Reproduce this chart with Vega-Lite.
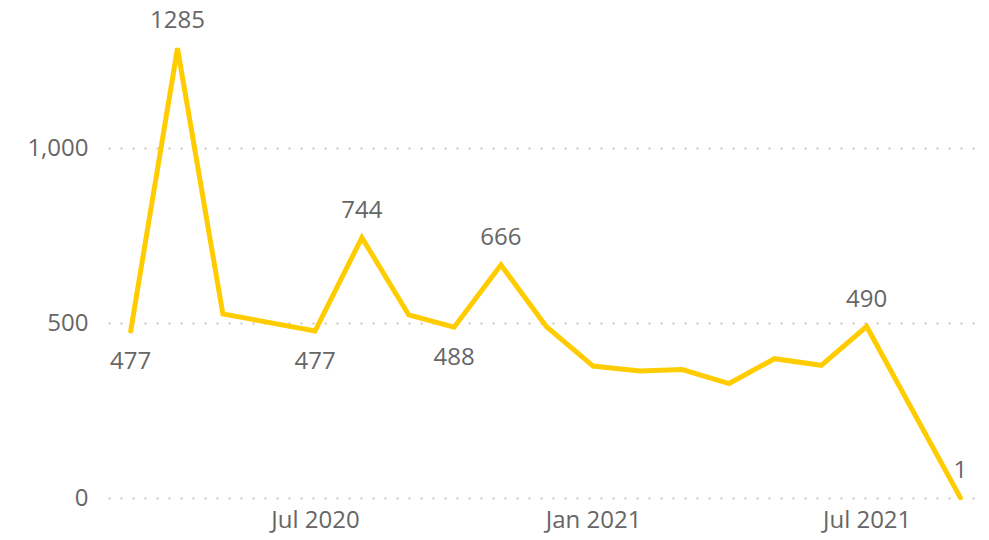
{
  "$schema": "https://vega.github.io/schema/vega-lite/v6.json",
  "width": 875,
  "height": 469,
  "autosize": {"type": "none"},
  "padding": {"left": 108, "top": 29, "right": 6, "bottom": 42},
  "background": "white",
  "config": {"view": {"stroke": null}, "font": "Open Sans"},
  "data": {
    "values": [
      {"date": "2020-03-01", "value": 477},
      {"date": "2020-04-01", "value": 1285},
      {"date": "2020-05-01", "value": 526},
      {"date": "2020-07-01", "value": 477},
      {"date": "2020-08-01", "value": 744},
      {"date": "2020-09-01", "value": 523},
      {"date": "2020-10-01", "value": 488},
      {"date": "2020-11-01", "value": 666},
      {"date": "2020-12-01", "value": 490},
      {"date": "2021-01-01", "value": 377},
      {"date": "2021-02-01", "value": 363},
      {"date": "2021-03-01", "value": 367},
      {"date": "2021-04-01", "value": 327},
      {"date": "2021-05-01", "value": 398},
      {"date": "2021-06-01", "value": 379},
      {"date": "2021-07-01", "value": 490},
      {"date": "2021-09-01", "value": 1}
    ]
  },
  "encoding": {
    "x": {
      "field": "date",
      "type": "temporal",
      "title": null,
      "scale": {
        "type": "utc",
        "domain": [
          {"year": 2020, "month": 2, "date": 15, "utc": true},
          {"year": 2021, "month": 9, "date": 16, "utc": true}
        ]
      },
      "axis": {
        "values": [
          {"year": 2020, "month": 7, "date": 1, "utc": true},
          {"year": 2021, "month": 1, "date": 1, "utc": true},
          {"year": 2021, "month": 7, "date": 1, "utc": true}
        ],
        "labelExpr": "utcFormat(datum.value, '%b %Y')",
        "grid": false,
        "domain": false,
        "ticks": false,
        "labelFontSize": 24,
        "labelColor": "#666666",
        "labelPadding": 10
      }
    },
    "y": {
      "field": "value",
      "type": "quantitative",
      "title": null,
      "scale": {"domain": [0, 1340], "nice": false},
      "axis": {
        "values": [0, 500, 1000],
        "format": ",d",
        "domain": false,
        "ticks": false,
        "grid": true,
        "gridColor": "#C8C8C8",
        "gridDash": [2, 10],
        "gridWidth": 2,
        "labelFontSize": 24,
        "labelColor": "#666666",
        "labelPadding": 20
      }
    }
  },
  "layer": [
    {
      "mark": {"type": "line", "color": "#FFCC00", "strokeWidth": 5, "strokeJoin": "miter", "strokeCap": "round"}
    },
    {
      "transform": [
        {"filter": "indexof(['2020-04','2020-08','2020-11','2021-07','2021-09'], utcFormat(toDate(datum.date), '%Y-%m')) >= 0"}
      ],
      "mark": {"type": "text", "fontSize": 24, "color": "#666666", "baseline": "middle", "align": "center", "dy": -27},
      "encoding": {"text": {"field": "value", "type": "quantitative", "format": "d"}}
    },
    {
      "transform": [
        {"filter": "indexof(['2020-03','2020-07','2020-10'], utcFormat(toDate(datum.date), '%Y-%m')) >= 0"}
      ],
      "mark": {"type": "text", "fontSize": 24, "color": "#666666", "baseline": "middle", "align": "center", "dy": 31},
      "encoding": {"text": {"field": "value", "type": "quantitative", "format": "d"}}
    }
  ]
}
